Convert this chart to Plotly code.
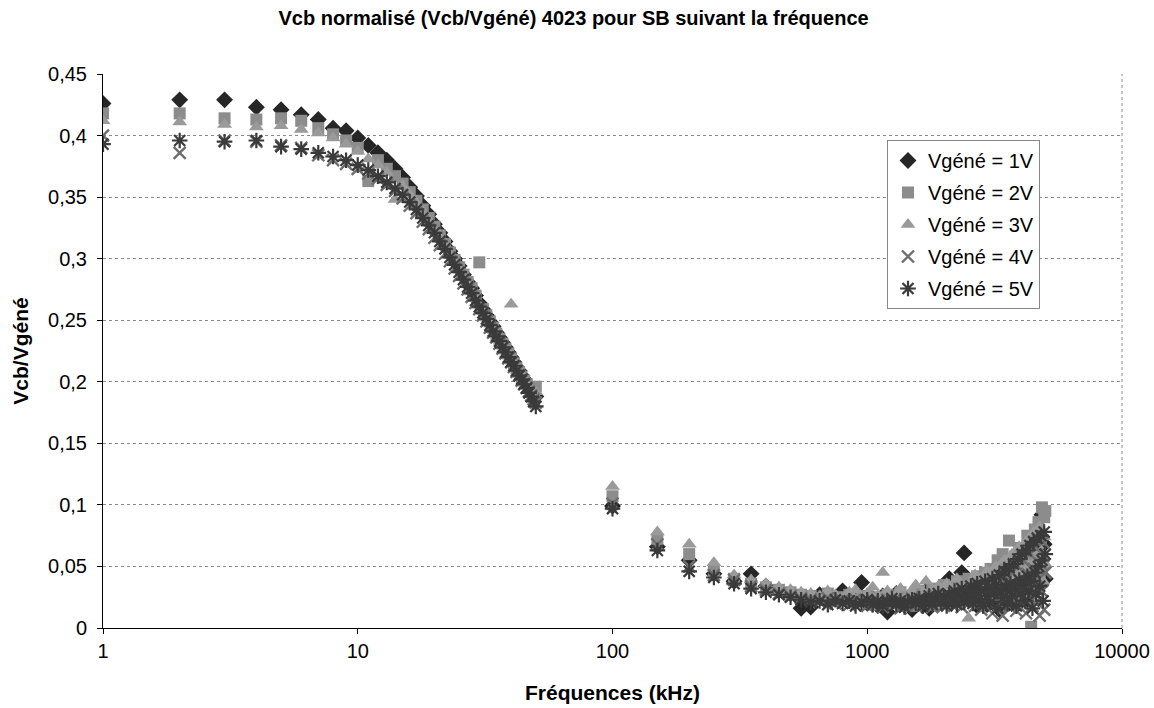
import plotly.graph_objects as go

# ---------------- data ----------------
freq_low = [1, 2, 3, 4, 5, 6, 7, 8, 9, 10, 11, 12, 13, 14, 15, 16, 17, 18, 19, 20,
            21, 22, 23, 24, 25, 26, 27, 28, 29, 30, 31, 32, 33, 34, 35, 36, 37, 38, 39, 40,
            41, 42, 43, 44, 45, 46, 47, 48, 49, 50]
freq_high = [100, 150, 200, 250, 300, 350, 400, 450, 500, 550,
             600, 650, 700, 750, 800, 850, 900, 950, 1000, 1050,
             1100, 1150, 1200, 1250, 1300, 1350, 1400, 1450, 1500, 1550,
             1600, 1650, 1700, 1750, 1800, 1850, 1900, 1950, 2000, 2050,
             2100, 2150, 2200, 2250, 2300, 2350, 2400, 2450, 2500, 2550,
             2600, 2650, 2700, 2750, 2800, 2850, 2900, 2950, 3000, 3050,
             3100, 3150, 3200, 3250, 3300, 3350, 3400, 3450, 3500, 3550,
             3600, 3650, 3700, 3750, 3800, 3850, 3900, 3950, 4000, 4050,
             4100, 4150, 4200, 4250, 4300, 4350, 4400, 4450, 4500, 4550,
             4600, 4650, 4700, 4750, 4800, 4850, 4900, 4950, 5000]

v1_low = [0.426, 0.429, 0.429, 0.423, 0.421, 0.417, 0.413, 0.406, 0.404, 0.398,
          0.392, 0.386, 0.380, 0.373, 0.366, 0.358, 0.351, 0.343, 0.336, 0.328,
          0.321, 0.314, 0.306, 0.300, 0.294, 0.287, 0.281, 0.276, 0.270, 0.264,
          0.259, 0.254, 0.249, 0.245, 0.240, 0.236, 0.232, 0.228, 0.224, 0.220,
          0.216, 0.212, 0.209, 0.205, 0.202, 0.199, 0.196, 0.193, 0.190, 0.188]
v1_high = [0.099, 0.066, 0.055, 0.044, 0.038, 0.044, 0.034, 0.030, 0.028, 0.016,
           0.017, 0.027, 0.025, 0.024, 0.030, 0.022, 0.026, 0.037, 0.020, 0.024,
           0.018, 0.026, 0.013, 0.022, 0.028, 0.019, 0.025, 0.021, 0.015, 0.027,
           0.023, 0.018, 0.030, 0.016, 0.024, 0.027, 0.020, 0.033, 0.026, 0.022,
           0.040, 0.029, 0.035, 0.024, 0.031, 0.045, 0.061, 0.038, 0.027, 0.033,
           0.025, 0.030, 0.018, 0.036, 0.028, 0.022, 0.034, 0.019, 0.031, 0.026,
           0.040, 0.021, 0.035, 0.028, 0.015, 0.045, 0.030, 0.024, 0.050, 0.033,
           0.020, 0.042, 0.028, 0.055, 0.036, 0.018, 0.047, 0.030, 0.060, 0.025,
           0.040, 0.052, 0.022, 0.065, 0.035, 0.045, 0.028, 0.070, 0.038, 0.055,
           0.030, 0.075, 0.044, 0.060, 0.035, 0.092, 0.050, 0.068, 0.040]

v2_low = [0.418, 0.418, 0.414, 0.413, 0.414, 0.412, 0.406, 0.401, 0.396, 0.390,
          0.363, 0.380, 0.373, 0.367, 0.361, 0.354, 0.347, 0.340, 0.333, 0.326,
          0.319, 0.312, 0.305, 0.299, 0.293, 0.287, 0.281, 0.276, 0.270, 0.297,
          0.259, 0.254, 0.249, 0.244, 0.239, 0.235, 0.231, 0.227, 0.223, 0.219,
          0.215, 0.211, 0.208, 0.204, 0.201, 0.198, 0.195, 0.192, 0.189, 0.196]
v2_high = [0.107, 0.072, 0.060, 0.046, 0.040, 0.036, 0.033, 0.031, 0.029, 0.027,
           0.026, 0.024, 0.028, 0.022, 0.025, 0.027, 0.021, 0.024, 0.026, 0.019,
           0.025, 0.023, 0.027, 0.020, 0.024, 0.029, 0.022, 0.026, 0.018, 0.025,
           0.030, 0.021, 0.027, 0.024, 0.032, 0.019, 0.028, 0.025, 0.035, 0.022,
           0.029, 0.033, 0.024, 0.038, 0.027, 0.031, 0.022, 0.036, 0.040, 0.028,
           0.034, 0.025, 0.042, 0.030, 0.037, 0.023, 0.045, 0.032, 0.028, 0.048,
           0.035, 0.026, 0.041, 0.055, 0.030, 0.038, 0.060, 0.027, 0.044, 0.035,
           0.071, 0.031, 0.050, 0.040, 0.058, 0.025, 0.046, 0.065, 0.036, 0.052,
           0.030, 0.062, 0.044, 0.075, 0.038, 0.055, 0.001, 0.068, 0.042, 0.080,
           0.035, 0.058, 0.086, 0.045, 0.072, 0.098, 0.052, 0.090, 0.095]

v3_low = [0.412, 0.411, 0.409, 0.407, 0.408, 0.405, 0.402, 0.398, 0.393, 0.387,
          0.381, 0.376, 0.370, 0.348, 0.359, 0.352, 0.345, 0.338, 0.331, 0.324,
          0.317, 0.310, 0.303, 0.297, 0.291, 0.285, 0.279, 0.273, 0.268, 0.262,
          0.257, 0.252, 0.248, 0.243, 0.239, 0.235, 0.231, 0.227, 0.223, 0.263,
          0.215, 0.212, 0.208, 0.205, 0.201, 0.198, 0.195, 0.193, 0.190, 0.192]
v3_high = [0.115, 0.078, 0.068, 0.053, 0.043, 0.039, 0.036, 0.033, 0.031, 0.029,
           0.028, 0.026, 0.030, 0.027, 0.024, 0.029, 0.031, 0.025, 0.028, 0.033,
           0.026, 0.045, 0.030, 0.024, 0.028, 0.032, 0.023, 0.027, 0.030, 0.035,
           0.026, 0.029, 0.038, 0.024, 0.031, 0.027, 0.034, 0.022, 0.030, 0.036,
           0.025, 0.032, 0.028, 0.040, 0.026, 0.034, 0.030, 0.024, 0.008, 0.037,
           0.029, 0.043, 0.027, 0.033, 0.024, 0.039, 0.031, 0.046, 0.026, 0.035,
           0.041, 0.028, 0.050, 0.033, 0.024, 0.044, 0.036, 0.055, 0.029, 0.040,
           0.048, 0.032, 0.060, 0.038, 0.027, 0.052, 0.042, 0.066, 0.034, 0.046,
           0.057, 0.030, 0.070, 0.041, 0.050, 0.036, 0.063, 0.045, 0.078, 0.033,
           0.055, 0.067, 0.040, 0.082, 0.048, 0.060, 0.038, 0.074, 0.052]

v4_low = [0.400, 0.386, 0.396, 0.395, 0.392, 0.390, 0.384, 0.380, 0.377, 0.373,
          0.369, 0.365, 0.360, 0.355, 0.349, 0.343, 0.337, 0.330, 0.324, 0.317,
          0.311, 0.304, 0.298, 0.292, 0.286, 0.280, 0.275, 0.269, 0.264, 0.259,
          0.254, 0.249, 0.244, 0.240, 0.236, 0.231, 0.227, 0.223, 0.219, 0.216,
          0.212, 0.208, 0.205, 0.201, 0.198, 0.195, 0.192, 0.189, 0.186, 0.183]
v4_high = [0.101, 0.068, 0.050, 0.043, 0.039, 0.034, 0.031, 0.028, 0.026, 0.024,
           0.023, 0.021, 0.024, 0.020, 0.022, 0.019, 0.023, 0.021, 0.018, 0.022,
           0.020, 0.017, 0.023, 0.019, 0.021, 0.016, 0.022, 0.020, 0.024, 0.018,
           0.021, 0.025, 0.019, 0.023, 0.017, 0.026, 0.020, 0.024, 0.018, 0.027,
           0.022, 0.019, 0.028, 0.021, 0.025, 0.017, 0.029, 0.023, 0.020, 0.031,
           0.024, 0.018, 0.033, 0.026, 0.015, 0.030, 0.022, 0.035, 0.019, 0.027,
           0.012, 0.032, 0.024, 0.038, 0.020, 0.029, 0.010, 0.036, 0.025, 0.041,
           0.018, 0.033, 0.045, 0.022, 0.030, 0.014, 0.050, 0.027, 0.038, 0.020,
           0.055, 0.031, 0.012, 0.044, 0.026, 0.060, 0.035, 0.018, 0.048, 0.029,
           0.065, 0.022, 0.040, 0.010, 0.052, 0.030, 0.070, 0.015, 0.045]

v5_low = [0.393, 0.396, 0.395, 0.396, 0.391, 0.389, 0.386, 0.383, 0.380, 0.376,
          0.372, 0.367, 0.362, 0.357, 0.352, 0.346, 0.340, 0.333, 0.327, 0.321,
          0.314, 0.308, 0.301, 0.295, 0.289, 0.283, 0.277, 0.272, 0.266, 0.261,
          0.256, 0.251, 0.246, 0.241, 0.237, 0.233, 0.228, 0.224, 0.220, 0.216,
          0.213, 0.209, 0.205, 0.202, 0.198, 0.195, 0.191, 0.188, 0.184, 0.180]
v5_high = [0.097, 0.063, 0.046, 0.041, 0.036, 0.032, 0.029, 0.027, 0.025, 0.023,
           0.021, 0.022, 0.019, 0.023, 0.020, 0.022, 0.018, 0.021, 0.023, 0.019,
           0.022, 0.018, 0.021, 0.024, 0.019, 0.022, 0.017, 0.021, 0.023, 0.020,
           0.024, 0.018, 0.022, 0.026, 0.019, 0.023, 0.028, 0.021, 0.025, 0.018,
           0.027, 0.022, 0.030, 0.019, 0.026, 0.032, 0.021, 0.028, 0.024, 0.034,
           0.020, 0.029, 0.036, 0.023, 0.031, 0.018, 0.038, 0.026, 0.033, 0.021,
           0.040, 0.028, 0.035, 0.016, 0.043, 0.030, 0.024, 0.046, 0.033, 0.020,
           0.049, 0.036, 0.026, 0.052, 0.032, 0.018, 0.056, 0.039, 0.028, 0.060,
           0.035, 0.022, 0.063, 0.042, 0.030, 0.067, 0.038, 0.016, 0.070, 0.045,
           0.028, 0.073, 0.050, 0.034, 0.075, 0.055, 0.022, 0.078, 0.060]

series_names = ["Vgéné = 1V", "Vgéné = 2V", "Vgéné = 3V", "Vgéné = 4V", "Vgéné = 5V"]

x_tickvals = [1, 10, 100, 1000, 10000]
x_ticktext = ["1", "10", "100", "1000", "10000"]
y_tickvals = [0, 0.05, 0.1, 0.15, 0.2, 0.25, 0.3, 0.35, 0.4, 0.45]
y_ticktext = ["0", "0,05", "0,1", "0,15", "0,2", "0,25", "0,3", "0,35", "0,4", "0,45"]

title_text = "Vcb normalisé (Vcb/Vgéné) 4023 pour SB suivant la fréquence"
x_title = "Fréquences (kHz)"
y_title = "Vcb/Vgéné"

# ---------------- styles ----------------
styles = [
    dict(symbol="diamond", color="#262626", size=13, lw=0),
    dict(symbol="square", color="#8c8c8c", size=12, lw=0),
    dict(symbol="triangle-up", color="#9a9a9a", size=13, lw=0),
    dict(symbol="x-thin-open", color="#6e6e6e", size=12, lw=2.4),
    dict(symbol="asterisk-open", color="#3a3a3a", size=13, lw=2.2),
]

all_series = [
    (v1_low, v1_high), (v2_low, v2_high), (v3_low, v3_high),
    (v4_low, v4_high), (v5_low, v5_high),
]

fig = go.Figure()
for i, ((lo, hi), st) in enumerate(zip(all_series, styles)):
    fig.add_trace(go.Scatter(
        x=freq_low + freq_high,
        y=lo + hi,
        mode="markers",
        name=series_names[i],
        legendgroup="g%d" % i,
        marker=dict(symbol=st["symbol"], color=st["color"], size=st["size"],
                    line=dict(width=st["lw"], color=st["color"])),
    ))

font_family = "Liberation Sans, Arial, sans-serif"

fig.update_layout(
    width=1154, height=708,
    margin=dict(l=103, r=32, t=74, b=80, autoexpand=False),
    paper_bgcolor="white", plot_bgcolor="white",
    font=dict(family=font_family, color="black", size=20),
    title=dict(text="<b>" + title_text + "</b>", x=0.497, xref="container",
               xanchor="center", y=1 - 18 / 708, yref="container", yanchor="middle",
               font=dict(size=20, family=font_family, color="black")),
    showlegend=True,
    legend=dict(x=(887 - 103) / 1019, xref="paper", y=(628 - 140) / 554, yref="paper",
                xanchor="left", yanchor="top",
                bgcolor="white", bordercolor="#888888", borderwidth=1,
                font=dict(size=20, family=font_family, color="black"),
                tracegroupgap=3, itemwidth=30),
)

fig.update_xaxes(
    type="log", range=[0, 4],
    tickvals=x_tickvals, ticktext=x_ticktext,
    ticks="outside", ticklen=5, tickcolor="black",
    showline=True, linecolor="black", linewidth=1, mirror=False,
    showgrid=False, zeroline=False,
    tickfont=dict(size=20, family=font_family),
    title=dict(text="<b>" + x_title + "</b>", font=dict(size=21, family=font_family), standoff=24),
)
fig.update_yaxes(
    range=[0, 0.45],
    tickvals=y_tickvals, ticktext=y_ticktext,
    ticks="outside", ticklen=5, tickcolor="black", ticklabelstandoff=6,
    showline=True, linecolor="black", linewidth=1,
    showgrid=True, gridcolor="#8a8a8a", griddash="dot", gridwidth=1,
    zeroline=False,
    tickfont=dict(size=20, family=font_family),
    title=dict(text="<b>" + y_title + "</b>", font=dict(size=21, family=font_family), standoff=13),
)

# right border of plot area (dotted grey, like Excel plot-area frame)
fig.add_shape(type="line", xref="paper", yref="paper", x0=1, x1=1, y0=0, y1=1,
              line=dict(color="#8a8a8a", width=1, dash="dot"))

fig.write_html("out.html",
               config={"displayModeBar": False},
               post_script="document.body.style.margin='0';document.body.style.overflow='hidden';")
